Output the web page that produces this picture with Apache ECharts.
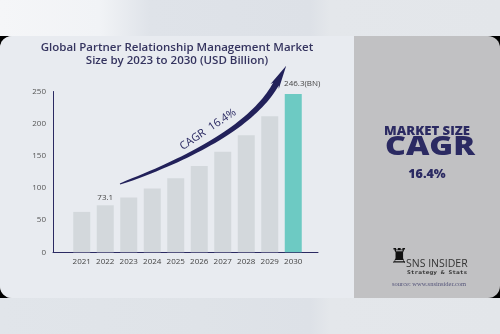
<!DOCTYPE html>
<html>
<head>
<meta charset="utf-8">
<script src="https://cdn.jsdelivr.net/npm/echarts@6/dist/echarts.min.js"></script>
<style>
  html, body { margin: 0; padding: 0; background: #e2e6eb; }
  #chart { width: 500px; height: 334px; }
</style>
</head>
<body>
<div id="chart"></div>
<script>
// Market size by year (USD Billion)
const years = ['2021', '2022', '2023', '2024', '2025', '2026', '2027', '2028', '2029', '2030'];
const marketSize = [62.8, 73.1, 85.1, 99.0, 115.3, 134.2, 156.2, 181.8, 211.6, 246.3];
const labelledYears = ['2022', '2030'];
const yTicks = [0, 50, 100, 150, 200, 250];
const cagrText = 'CAGR  16.4%';

const NAVY = '#2b2a62';
const chart = echarts.init(document.getElementById('chart'), null, { renderer: 'canvas' });

// Tapered swoosh arrow drawn over the bars (quadratic Bezier shaft + arrow head)
function swooshPoints() {
  const p0 = [120, 184], p1 = [246, 138], p2 = [276, 84];
  const upper = [], lower = [];
  const N = 40;
  for (let i = 0; i <= N; i++) {
    const t = i / N, u = 1 - t;
    const x = u * u * p0[0] + 2 * u * t * p1[0] + t * t * p2[0];
    const y = u * u * p0[1] + 2 * u * t * p1[1] + t * t * p2[1];
    const dx = 2 * u * (p1[0] - p0[0]) + 2 * t * (p2[0] - p1[0]);
    const dy = 2 * u * (p1[1] - p0[1]) + 2 * t * (p2[1] - p1[1]);
    const len = Math.hypot(dx, dy);
    const nx = -dy / len, ny = dx / len;
    const w = 0.5 + 2.6 * Math.sqrt(t);
    upper.push([x + nx * w, y + ny * w]);
    lower.push([x - nx * w, y - ny * w]);
  }
  const dir = [p2[0] - p1[0], p2[1] - p1[1]];
  const dl = Math.hypot(dir[0], dir[1]);
  const ux = dir[0] / dl, uy = dir[1] / dl;
  const nx = -uy, ny = ux;
  const tip = [p2[0] + ux * 21, p2[1] + uy * 21];
  const hw = 4.8;
  const head = [
    [p2[0] + nx * hw - ux * 3, p2[1] + ny * hw - uy * 3],
    tip,
    [p2[0] - nx * hw - ux * 3, p2[1] - ny * hw - uy * 3]
  ];
  return upper.concat(head).concat(lower.reverse());
}

const option = {
  animation: false,
  backgroundColor: 'transparent',
  graphic: [
    // page bands and card
    { type: 'rect', z: -10, shape: { x: 0, y: 0, width: 500, height: 36 },
      style: { fill: new echarts.graphic.LinearGradient(0, 0, 1, 0, [
        { offset: 0, color: '#f5f6f8' }, { offset: 0.2, color: '#f1f3f6' },
        { offset: 0.3, color: '#dfe3e9' }, { offset: 0.62, color: '#dde1e7' },
        { offset: 0.66, color: '#e4e7eb' }, { offset: 1, color: '#e3e6ea' }]) } },
    { type: 'rect', z: -10, shape: { x: 0, y: 298, width: 500, height: 36 },
      style: { fill: new echarts.graphic.LinearGradient(0, 0, 1, 0, [
        { offset: 0, color: '#e1e5ea' }, { offset: 0.4, color: '#dfe3e8' },
        { offset: 0.62, color: '#dde1e7' }, { offset: 0.66, color: '#e4e7eb' },
        { offset: 1, color: '#e3e6ea' }]) } },
    { type: 'rect', z: -10, shape: { x: 0, y: 36, width: 500, height: 262 }, style: { fill: '#000' } },
    { type: 'rect', z: -9, shape: { x: 0, y: 36, width: 500, height: 262, r: 12 }, style: { fill: '#c1c1c3' } },
    { type: 'rect', z: -8, shape: { x: 0, y: 36, width: 354, height: 262, r: [12, 0, 0, 12] }, style: { fill: '#e8ebf0' } },

    // chart title
    { type: 'text', x: 177, y: 48, z: 5,
      style: { text: 'Global Partner Relationship Management Market', textAlign: 'center', textVerticalAlign: 'middle',
        fill: '#35345f', font: '600 11.5px "Open Sans"' } },
    { type: 'text', x: 177, y: 61, z: 5,
      style: { text: 'Size by 2023 to 2030 (USD Billion)', textAlign: 'center', textVerticalAlign: 'middle',
        fill: '#35345f', font: '600 11.5px "Open Sans"' } },

    // swoosh
    { type: 'polygon', z: 6, shape: { points: swooshPoints() }, style: { fill: '#22215a' } },
    { type: 'text', z: 6, x: 208, y: 129.5, rotation: 34 * Math.PI / 180,
      style: { text: cagrText, fill: '#2b2a62', font: '11px "Open Sans"', textAlign: 'center', textVerticalAlign: 'middle' } },

    // right panel
    { type: 'text', z: 5, x: 427, y: 131, scaleX: 1.05,
      style: { text: 'MARKET SIZE', fill: NAVY, font: '800 12.5px "Open Sans"', textAlign: 'center', textVerticalAlign: 'middle' } },
    { type: 'text', z: 5, x: 430, y: 148, scaleX: 1.24,
      style: { text: 'CAGR', fill: NAVY, font: '800 26px "Open Sans"', textAlign: 'center', textVerticalAlign: 'middle' } },
    { type: 'text', z: 5, x: 427, y: 174.5,
      style: { text: '16.4%', fill: NAVY, font: '800 12.5px "Open Sans"', textAlign: 'center', textVerticalAlign: 'middle' } },

    // logo
    { type: 'text', z: 5, x: 390, y: 247,
      style: { text: '♜', fill: '#111', font: '21px "DejaVu Sans"' } },
    { type: 'text', z: 5, x: 406, y: 264.5,
      style: { text: 'SNS INSIDER', fill: '#333', font: '10.5px "Open Sans"', textVerticalAlign: 'middle' } },
    { type: 'text', z: 5, x: 407, y: 273, scaleX: 1.25,
      style: { text: 'Strategy & Stats', fill: '#333', font: 'bold 5px "DejaVu Sans Mono"', textVerticalAlign: 'middle' } },
    { type: 'text', z: 5, x: 429, y: 284,
      style: { text: 'source: www.snsinsider.com', fill: '#55557a', font: '6.5px "Liberation Serif"', textAlign: 'center', textVerticalAlign: 'middle' } }
  ],
  grid: [
    { left: 53, right: 182, top: 91.5, bottom: 81.7 },
    { left: 70, right: 195, top: 91.5, bottom: 81.7 }
  ],
  xAxis: [
    { gridIndex: 0, type: 'value', min: 0, max: 1,
      axisLine: { show: true, lineStyle: { color: NAVY, width: 1 } },
      axisTick: { show: false }, axisLabel: { show: false }, splitLine: { show: false } },
    { gridIndex: 1, type: 'category', data: years,
      axisLine: { show: false }, axisTick: { show: false },
      axisLabel: { interval: 0, color: '#444', fontSize: 8, margin: 5, fontFamily: 'Open Sans' } }
  ],
  yAxis: [
    { gridIndex: 0, type: 'value', min: yTicks[0], max: yTicks[yTicks.length - 1], interval: 50,
      axisLine: { show: true, lineStyle: { color: NAVY, width: 1 } },
      axisTick: { show: false }, splitLine: { show: false },
      axisLabel: { color: '#555', fontSize: 8, margin: 7, fontFamily: 'Open Sans' } },
    { gridIndex: 1, type: 'value', min: yTicks[0], max: yTicks[yTicks.length - 1], show: false }
  ],
  series: [
    { type: 'bar', xAxisIndex: 1, yAxisIndex: 1, barWidth: 17,
      data: marketSize.map((v, i) => ({
        value: v,
        itemStyle: { color: i === years.length - 1 ? '#6dcac3' : '#d3d8dc' },
        label: {
          show: labelledYears.includes(years[i]),
          position: 'top', distance: 4,
          offset: i === years.length - 1 ? [9, -2] : [0, 0],
          formatter: i === years.length - 1 ? '{c}(BN)' : '{c}',
          color: '#444', fontSize: 8, fontFamily: 'Open Sans'
        }
      }))
    }
  ]
};
chart.setOption(option);
</script>
</body>
</html>
